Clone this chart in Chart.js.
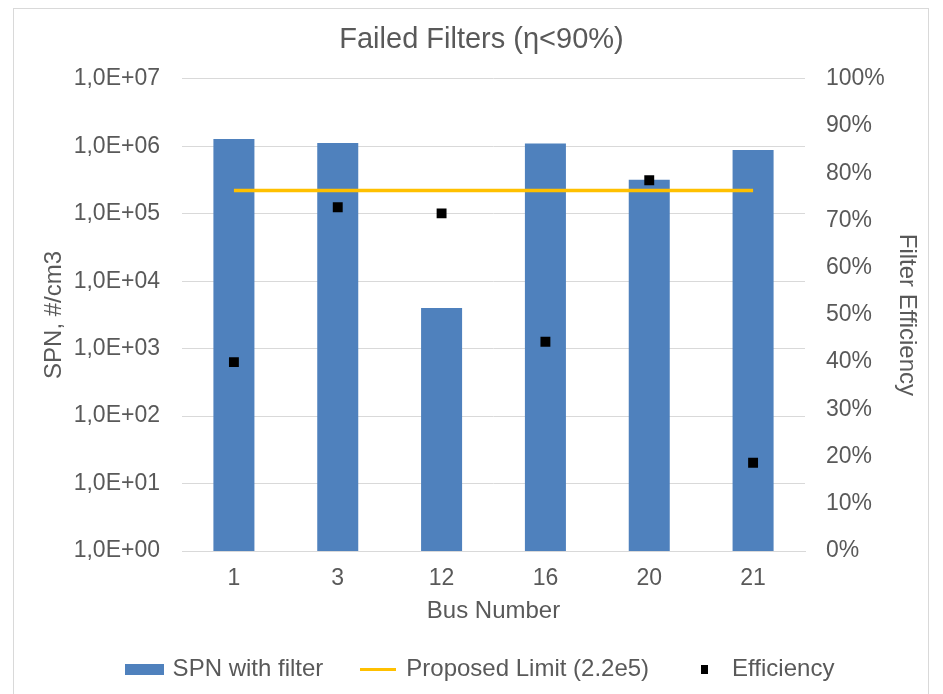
<!DOCTYPE html>
<html>
<head>
<meta charset="utf-8">
<script src="https://cdn.jsdelivr.net/npm/chart.js@4"></script>
<style>
  body { margin: 0; background: #fff; }
  .frame { position: absolute; left: 13px; top: 8px; width: 916px; height: 690px; border: 1px solid #d9d9d9; box-sizing: border-box; }
  .wrap { position: absolute; left: 0; top: 0; width: 943px; height: 694px; }
</style>
</head>
<body>
<div class="frame"></div>
<div class="wrap"><canvas id="chart1"></canvas></div>
<script>
// data
const busNumbers = ["1", "3", "12", "16", "20", "21"];
const spnWithFilter = [1.28e6, 1.12e6, 4.0e3, 1.1e6, 3.2e5, 8.8e5];
const proposedLimit = [2.2e5, 2.2e5, 2.2e5, 2.2e5, 2.2e5, 2.2e5];
const efficiency = [40.0, 72.8, 71.5, 44.3, 78.5, 18.7];
const spnTicks = [1, 10, 100, 1e3, 1e4, 1e5, 1e6, 1e7];

const textColor = "#595959";
const gridColor = "#d9d9d9";
const barColor = "#4f81bd";
const limitColor = "#ffc000";
const fontFamily = "'Liberation Sans', Arial, sans-serif";

// little canvases used as legend markers
function makeIcon(w, h, color) {
  const c = document.createElement("canvas");
  c.width = w;
  c.height = h;
  const g = c.getContext("2d");
  g.fillStyle = color;
  g.fillRect(0, 0, w, h);
  return c;
}
const barIcon = makeIcon(39, 11, barColor);
const lineIcon = makeIcon(36, 3, limitColor);
const dotIcon = makeIcon(7, 9, "#000000");

function sciLabel(v) {
  const e = Math.round(Math.log10(v));
  return "1,0E+" + (e < 10 ? "0" + e : e);
}

const ctx1 = document.getElementById("chart1").getContext("2d");

const my_chart1 = new Chart(ctx1, {
  data: {
    labels: busNumbers,
    datasets: [
      {
        type: "line",
        label: "Efficiency",
        data: efficiency,
        yAxisID: "y1",
        showLine: false,
        pointStyle: "rect",
        pointRadius: 7,
        pointBackgroundColor: "#000",
        pointBorderWidth: 0,
        order: 0,
        legendIcon: dotIcon,
      },
      {
        type: "line",
        label: "Proposed Limit (2.2e5)",
        data: proposedLimit,
        yAxisID: "y",
        borderColor: limitColor,
        borderWidth: 3.5,
        pointRadius: 0,
        fill: false,
        order: 1,
        legendIcon: lineIcon,
      },
      {
        type: "bar",
        label: "SPN with filter",
        data: spnWithFilter,
        yAxisID: "y",
        backgroundColor: barColor,
        barPercentage: 1,
        categoryPercentage: 0.395,
        order: 2,
        legendIcon: barIcon,
      },
    ],
  },
  options: {
    responsive: true,
    maintainAspectRatio: false,
    animation: false,
    layout: { padding: { left: 36, right: 16, top: 0, bottom: 3 } },
    plugins: {
      title: {
        display: true,
        text: "Failed Filters (\u03b7<90%)",
        color: textColor,
        font: { family: fontFamily, size: 29, weight: "normal" },
        padding: { top: 23, bottom: 21 },
      },
      tooltip: { enabled: false },
      legend: {
        position: "bottom",
        reverse: true,
        labels: {
          color: textColor,
          font: { family: fontFamily, size: 24 },
          usePointStyle: true,
          pointStyleWidth: 32,
          padding: 39,
          generateLabels: (chart) =>
            chart.data.datasets.map((ds, i) => ({
              text: ds.label,
              pointStyle: ds.legendIcon,
              fillStyle: "transparent",
              strokeStyle: "transparent",
              lineWidth: 0,
              fontColor: textColor,
              datasetIndex: i,
            })),
        },
      },
    },
    scales: {
      x: {
        grid: { display: false, drawTicks: false },
        border: { display: true, color: gridColor, width: 1 },
        ticks: { color: textColor, font: { family: fontFamily, size: 23 }, padding: 14 },
        title: {
          display: true,
          text: "Bus Number",
          color: textColor,
          font: { family: fontFamily, size: 24 },
          padding: { top: 4, bottom: -8 },
        },
        afterFit: (axis) => {
          axis.height = 67;
        },
      },
      y: {
        type: "logarithmic",
        position: "left",
        min: 1,
        max: 1e7,
        afterBuildTicks: (axis) => {
          axis.ticks = spnTicks.map((v) => ({ value: v, major: false }));
        },
        afterFit: (axis) => {
          axis.width = 146;
        },
        grid: { color: gridColor, drawTicks: false },
        border: { display: false },
        ticks: {
          color: textColor,
          font: { family: fontFamily, size: 23 },
          padding: 22,
          callback: (v) => sciLabel(v),
        },
        title: {
          display: true,
          text: "SPN, #/cm3",
          color: textColor,
          font: { family: fontFamily, size: 24 },
          padding: { top: 4, bottom: 0 },
        },
      },
      y1: {
        position: "right",
        min: 0,
        max: 100,
        afterFit: (axis) => {
          axis.width = 122;
        },
        grid: { display: false, drawTicks: false },
        border: { display: false },
        ticks: {
          stepSize: 10,
          color: textColor,
          font: { family: fontFamily, size: 23 },
          padding: 21,
          callback: (v) => v + "%",
        },
        title: {
          display: true,
          text: "Filter Efficiency",
          color: textColor,
          font: { family: fontFamily, size: 24 },
          padding: { top: 6, bottom: 0 },
        },
      },
    },
  },
});
</script>
</body>
</html>
